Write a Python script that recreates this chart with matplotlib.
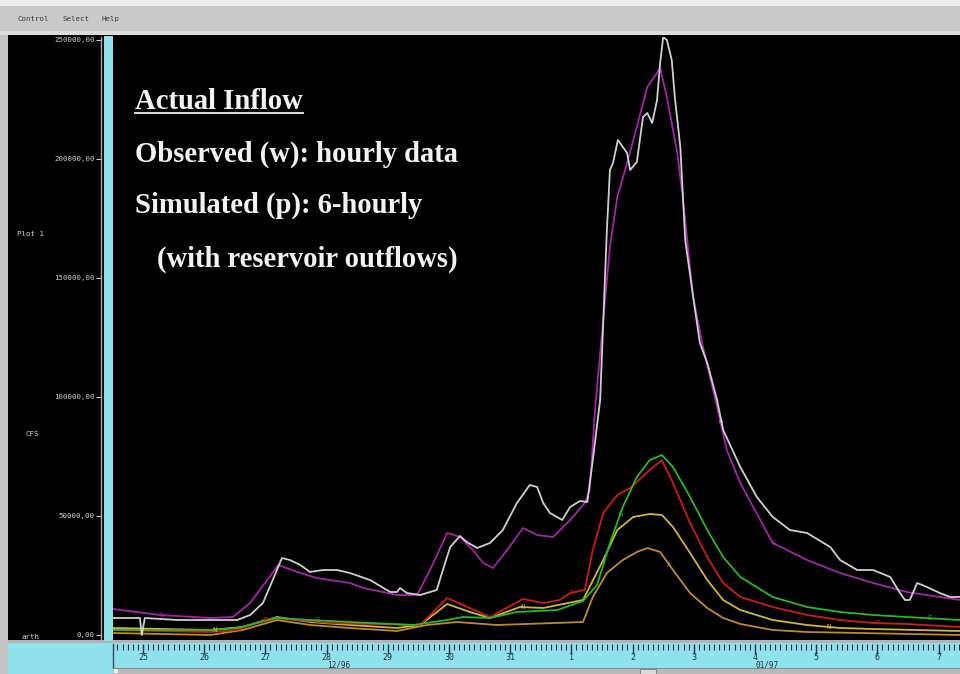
import matplotlib
matplotlib.use('Agg')
import matplotlib.pyplot as plt
import numpy as np
from matplotlib.patches import Rectangle
from matplotlib.lines import Line2D
from matplotlib.ticker import FixedLocator, MultipleLocator
import matplotlib.transforms as mtransforms

# ---------------- data (x = days after 12/25/96 label, y = CFS) ----------------
obs_x = [-0.49, -0.05, -0.02, 0.03, 0.56, 1.10, 1.54, 1.75, 1.96, 2.12, 2.27, 2.40, 2.57, 2.73,
         2.94, 3.17, 3.38, 3.71, 4.04, 4.15, 4.20, 4.31, 4.53, 4.80, 4.90, 5.02, 5.18, 5.29,
         5.46, 5.67, 5.88, 6.11, 6.32, 6.44, 6.54, 6.65, 6.85, 6.98, 7.14, 7.26, 7.35, 7.47,
         7.58, 7.63, 7.68, 7.76, 7.91, 7.96, 8.07, 8.17, 8.24, 8.32, 8.40, 8.45, 8.50, 8.56,
         8.64, 8.69, 8.78, 8.86, 8.99, 9.10, 9.22, 9.38, 9.48, 9.76, 10.03, 10.29, 10.57,
         10.85, 11.23, 11.39, 11.67, 11.93, 12.21, 12.37, 12.45, 12.53, 12.65, 12.81, 13.02,
         13.19, 13.35]
obs_y = [7140, 7140, 0, 7140, 6300, 6300, 6300, 8400, 13440, 23100, 32340, 31500, 29400, 26460,
         27300, 27300, 26040, 23100, 18060, 18060, 19740, 17640, 16800, 18900, 27300, 36960,
         41580, 39060, 36540, 38640, 44100, 55440, 63000, 62160, 55440, 51240, 48300, 53760,
         56280, 55860, 73500, 98700, 170100, 195300, 198240, 207900, 202440, 195300, 198660,
         217560, 219240, 215040, 224700, 240240, 251160, 249900, 241500, 225960, 204960,
         165900, 141960, 122640, 114240, 98700, 86100, 70560, 57960, 49560, 44100, 42840,
         36960, 31500, 27300, 27300, 24360, 17640, 14700, 14700, 21840, 20160, 17640, 15960,
         15960]

sim_x = [-0.49, 0.28, 1.10, 1.47, 1.75, 2.03, 2.21, 2.52, 2.84, 3.38, 3.60, 4.15, 4.48, 4.69,
         4.97, 5.18, 5.39, 5.56, 5.72, 5.95, 6.21, 6.44, 6.70, 6.98, 7.22, 7.30, 7.39, 7.52,
         7.63, 7.75, 7.91, 8.07, 8.24, 8.40, 8.45, 8.56, 8.73, 8.82, 8.99, 9.15, 9.38, 9.54,
         9.76, 10.29, 10.85, 11.39, 11.93, 12.48, 13.02, 13.35]
sim_y = [10920, 8400, 7140, 7560, 13440, 23100, 29400, 26460, 23940, 21840, 19740, 16800, 16800,
         27300, 42840, 41160, 35700, 30240, 28140, 35700, 44940, 42000, 41160, 48300, 55440,
         60900, 95760, 132300, 162960, 183960, 198240, 213360, 230160, 236040, 238140, 225960,
         202440, 183960, 141960, 120960, 95760, 77700, 63840, 38640, 31500, 26040, 21840,
         18060, 15960, 14700]

grn_x = [-0.49, 0.28, 1.10, 1.54, 1.86, 2.19, 2.73, 3.38, 4.41, 4.97, 5.23, 5.67, 6.11, 6.77,
         7.19, 7.42, 7.47, 7.63, 7.84, 8.07, 8.28, 8.48, 8.66, 8.94, 9.22, 9.48, 9.76, 10.29,
         10.85, 11.39, 11.93, 12.48, 13.35]
grn_y = [2100, 2100, 2100, 2940, 5040, 7140, 6300, 5460, 4200, 6300, 7560, 7140, 9660, 10500,
         14280, 21000, 25200, 38640, 53760, 66360, 73500, 75600, 70560, 57960, 44100, 32760,
         24360, 15960, 11760, 9660, 8400, 7560, 6300]

red_x = [-0.49, 1.10, 1.54, 1.96, 2.19, 2.52, 3.06, 4.53, 4.97, 5.34, 5.67, 6.21, 6.54, 6.81,
         6.98, 7.22, 7.35, 7.52, 7.75, 7.96, 8.28, 8.48, 8.66, 8.94, 9.22, 9.48, 9.76, 10.29,
         10.85, 11.39, 11.93, 12.48, 13.35]
red_y = [2100, 1260, 2100, 6300, 7140, 6300, 5040, 4200, 15540, 11340, 7560, 15120, 13440,
         14700, 17640, 18900, 35700, 51240, 58800, 61740, 69300, 73500, 63840, 47040, 32760,
         21840, 15960, 11760, 8400, 6300, 5040, 4620, 3360]

yel_x = [-0.49, 1.10, 1.63, 2.19, 2.73, 3.38, 4.15, 4.53, 4.97, 5.34, 5.67, 6.16, 6.54, 7.19,
         7.52, 7.75, 8.01, 8.28, 8.48, 8.66, 8.94, 9.22, 9.48, 9.76, 10.29, 10.85, 11.39,
         11.93, 13.35]
yel_y = [2940, 2100, 3360, 7560, 5460, 4200, 2940, 4200, 13020, 9660, 7140, 11760, 11340,
         14700, 31500, 44100, 49560, 50820, 50400, 45360, 34440, 23100, 14700, 10500, 6300,
         4200, 2940, 2520, 1680]

org_x = [-0.49, 1.10, 1.63, 2.19, 2.73, 3.38, 4.15, 4.64, 5.13, 5.78, 7.19, 7.35, 7.58, 7.84,
         8.07, 8.24, 8.45, 8.66, 8.94, 9.22, 9.48, 9.76, 10.29, 10.85, 11.72, 13.35]
org_y = [840, 0, 2100, 6300, 4200, 2940, 1680, 4200, 5460, 4200, 5460, 15960, 26040, 31500,
         34860, 36540, 34860, 27300, 17640, 11340, 7140, 4620, 2100, 1260, 840, 0]

day_pos = list(range(0, 14))
day_labels = ['25', '26', '27', '28', '29', '30', '31', '1', '2', '3', '4', '5', '6', '7']
month_labels = ['12/96', '01/97']
month_pos = [3.2, 10.2]

ytick_vals = [0, 50000, 100000, 150000, 200000, 250000]
ytick_labels = ['0,00', '50000,00', '100000,00', '150000,00', '200000,00', '250000,00']

# series identifier letters (letter, positions in days)
series = [
    (org_x, org_y, '#c08a2c', 'A', [8.6]),
    (yel_x, yel_y, '#cdb83a', 'N', [1.17, 6.2, 11.2]),
    (red_x, red_y, '#cc1c1c', 'R', [2.0, 7.0, 12.0]),
    (grn_x, grn_y, '#28b828', 'G', [2.85, 7.8, 12.85]),
    (sim_x, sim_y, '#a424a8', 'S', [0.3, 10.3]),
    (obs_x, obs_y, '#cfcfcf', 'A', [9.45]),
]

XLIM = (-0.49, 13.35)
YLIM = (-2100, 251160)

# ---------------- figure ----------------
W, H = 960, 674
fig = plt.figure(figsize=(9.6, 6.74), dpi=100, facecolor='black')


def fx(px):
    return px / W


def fy(py):
    return 1 - py / H


def frect(x0, y0, x1, y1, color, z=5, ec='none', lw=0):
    r = Rectangle((fx(x0), fy(y1)), fx(x1) - fx(x0), fy(y0) - fy(y1),
                  transform=fig.transFigure, facecolor=color, edgecolor=ec,
                  linewidth=lw, zorder=z)
    fig.add_artist(r)


mono = 'DejaVu Sans Mono'

# top menu bar
frect(0, 0, 960, 6, '#ececec')
frect(0, 6, 960, 31, '#c9c9c9')
frect(0, 31, 960, 35, '#dcdcdc')
for label, px in [('Control', 18), ('Select', 62), ('Help', 101)]:
    fig.text(fx(px), fy(19), label, family=mono, fontsize=5.3, color='#3a3a3a',
             ha='left', va='center', zorder=6)

# left border
frect(0, 35, 8, 674, '#c4c4c4')
# cyan bar
frect(104, 36, 113, 641, '#8fe2ec')
# bottom strip (drawn beneath the ruler axes)
frect(8, 640, 960, 643, '#b4b4b4', z=-2)
frect(8, 643, 960, 674, '#8fe2ec', z=-2)
frect(113, 668, 960, 674, '#b9b9b9')
frect(113, 668, 960, 669, '#8a8a8a')
frect(114, 669, 118, 673, '#f2f2f2')
frect(640, 669, 656, 674, '#dadada', ec='#7a7a7a', lw=0.6)

# ---------------- main plot axes ----------------
ax = fig.add_axes([fx(113), fy(640), fx(960) - fx(113), fy(37) - fy(640)])
ax.set_facecolor('black')
ax.set_xlim(*XLIM)
ax.set_ylim(*YLIM)
for s in ax.spines.values():
    s.set_visible(False)
ax.set_xticks([])
ax.set_yticks([])

for xs, ys, col, letter, lpos in series:
    ax.plot(xs, ys, color=col, lw=1.3, solid_joinstyle='round', zorder=3)
    for p in lpos:
        yv = np.interp(p, xs, ys)
        ax.text(p, yv, letter, color=col, fontsize=5, family=mono,
                ha='center', va='center', zorder=4)

# annotation text
serif = 'Liberation Serif'
fs = 20.6
tc = '#f2f2f2'
t1 = fig.text(fx(135), fy(109), 'Actual Inflow', family=serif, weight='bold',
              fontsize=fs, color=tc, ha='left', va='baseline', zorder=7)
fig.text(fx(135), fy(162), 'Observed (w): hourly data', family=serif, weight='bold',
         fontsize=fs, color=tc, ha='left', va='baseline', zorder=7)
fig.text(fx(135), fy(213), 'Simulated (p): 6-hourly', family=serif, weight='bold',
         fontsize=fs, color=tc, ha='left', va='baseline', zorder=7)
fig.text(fx(157), fy(267), '(with reservoir outflows)', family=serif, weight='bold',
         fontsize=fs, color=tc, ha='left', va='baseline', zorder=7)

# ---------------- left label panel ----------------
axL = fig.add_axes([fx(8), fy(640), fx(101) - fx(8), fy(37) - fy(640)])
axL.set_facecolor('black')
axL.set_ylim(*YLIM)
axL.set_xlim(0, 1)
axL.set_xticks([])
for k in ['left', 'top', 'bottom']:
    axL.spines[k].set_visible(False)
axL.spines['right'].set_color('#a8a8a8')
axL.spines['right'].set_linewidth(1.0)
axL.yaxis.set_ticks_position('right')
axL.set_yticks(ytick_vals)
axL.set_yticklabels(ytick_labels)
axL.tick_params(axis='y', direction='in', length=3.5, width=0.8, colors='#cfcfcf',
                labelsize=5.3, pad=-4.5, labelright=True, labelleft=False)
for lab in axL.get_yticklabels():
    lab.set_ha('right')
    lab.set_family(mono)

for txt, px, py in [('Plot 1', 17, 234), ('CFS', 25, 434), ('arth', 22, 637)]:
    xa = (px - 8) / (101 - 8)
    ya = (640 - py) / (640 - 37)
    axL.text(xa, ya, txt, transform=axL.transAxes, family=mono, fontsize=5.3,
             color='#d8d8d8', ha='left', va='center', clip_on=True)

# ---------------- bottom time ruler ----------------
rc = '#1e2e48'
axR = fig.add_axes([fx(113), fy(668), fx(960) - fx(113), fy(644) - fy(668)])
axR.set_facecolor('#8fe2ec')
axR.set_xlim(*XLIM)
axR.set_ylim(0, 1)
axR.set_yticks([])
axR.spines['right'].set_visible(False)
axR.spines['bottom'].set_visible(False)
axR.spines['top'].set_visible(False)
axR.spines['left'].set_color('#3a4a5a')
axR.spines['left'].set_linewidth(1.0)
axR.xaxis.set_major_locator(FixedLocator(day_pos))
axR.xaxis.set_minor_locator(MultipleLocator(1 / 12))
axR.set_xticklabels(day_labels)
axR.tick_params(axis='x', which='both', top=True, bottom=False, direction='in',
                labeltop=False, labelbottom=True, color=rc,
                labelcolor=rc, labelsize=6.0, pad=-11.0)
axR.tick_params(axis='x', which='major', length=7.0, width=1.0)
axR.tick_params(axis='x', which='minor', length=4.6, width=0.8)
for lab in axR.get_xticklabels():
    lab.set_family(mono)
for mp, ml in zip(month_pos, month_labels):
    axR.text(mp, 0.13, ml, family=mono, fontsize=5.6, color=rc,
             ha='center', va='center',
             transform=mtransforms.blended_transform_factory(axR.transData, axR.transAxes))

# underline for the heading
fig.canvas.draw()
bb = t1.get_window_extent(renderer=fig.canvas.get_renderer())
fig.add_artist(Line2D([bb.x0 / W, bb.x1 / W], [fy(112.5), fy(112.5)],
                      transform=fig.transFigure, color=tc, lw=1.3, zorder=7))

fig.savefig('out.png', dpi=100, facecolor=fig.get_facecolor())
